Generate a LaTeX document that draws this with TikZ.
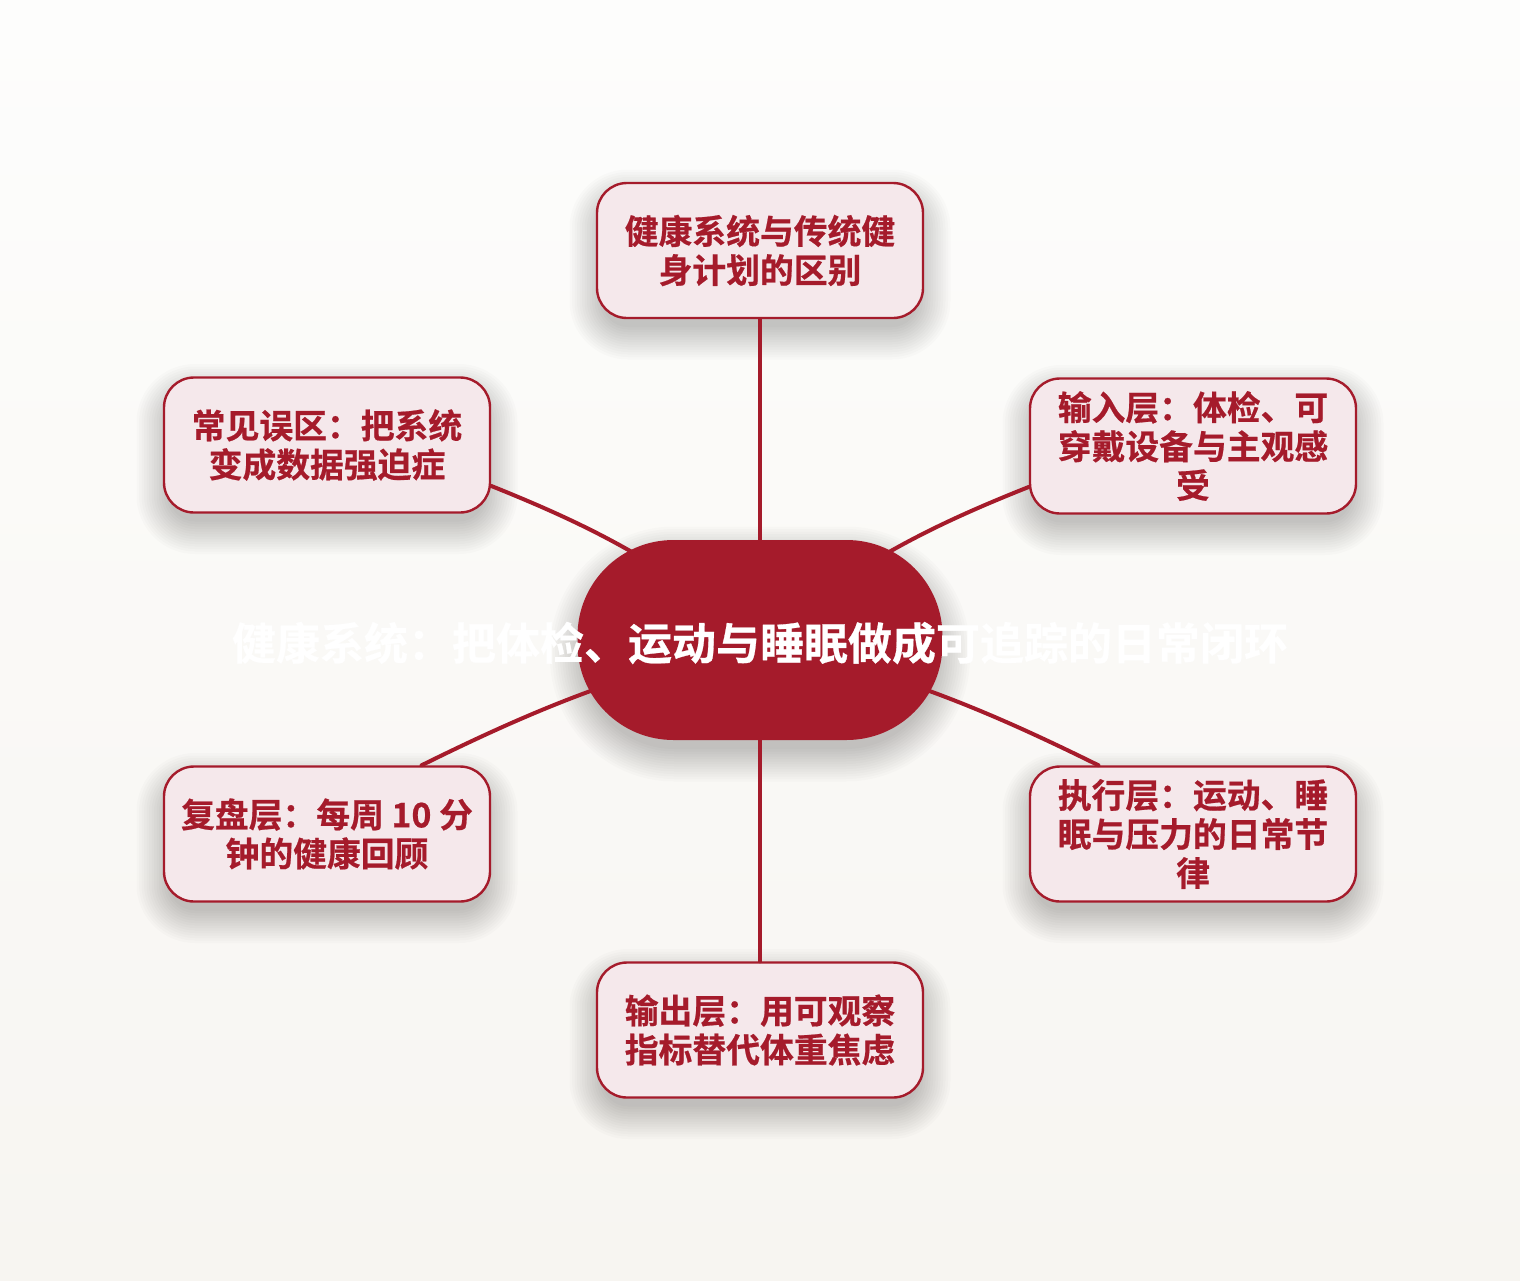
\documentclass[tikz,border=0pt]{standalone}
\usepackage{fontspec}
\newfontfamily\cjk{Noto Sans CJK SC}[BoldFont={Noto Sans CJK SC Bold},BoldFeatures={FakeBold=0.6}]
\definecolor{dred}{HTML}{A51B2B}
\definecolor{pfill}{HTML}{F5E8EB}
\definecolor{bgtop}{HTML}{FDFDFC}
\definecolor{bgbot}{HTML}{F7F5F1}
\newcommand\myshadow[4]{%
  \foreach \i in {0,...,13}{%
    \node[fill=black, fill opacity=0.016, draw=none, inner sep=0pt,
      rounded corners=#4+\i*2.5pt, minimum width=#2+\i*5pt, minimum height=#3+\i*5pt]
      at ([yshift=-14pt]#1) {};%
  }%
}
\tikzset{
  leaf/.style={draw=dred, line width=2.4pt, fill=pfill, rounded corners=30pt,
    minimum width=326pt, minimum height=135pt, align=center, text=dred,
    font=\cjk\bfseries\fontsize{33.8}{39}\selectfont, inner sep=0pt},
  hub/.style={fill=dred, rounded corners=96pt, minimum width=365pt, minimum height=200pt},
  link/.style={draw=dred, line width=4pt, line cap=round}
}
\begin{document}
\begin{tikzpicture}[x=1pt, y=-1pt]
\shade[top color=bgtop, bottom color=bgbot] (0,0) rectangle (1520,1280);
\useasboundingbox (0,0) rectangle (1520,1280);
% shadows
\myshadow{760,250.5}{316pt}{125pt}{26pt}
\myshadow{327,445}{316pt}{125pt}{26pt}
\myshadow{1193,446}{316pt}{125pt}{26pt}
\myshadow{327,834}{316pt}{125pt}{26pt}
\myshadow{1193,834}{316pt}{125pt}{26pt}
\myshadow{760,1030}{316pt}{125pt}{26pt}
\myshadow{760,640}{355pt}{190pt}{92pt}
% leaves
\node[leaf] (t) at (760,250.5) {健康系统与传统健\\身计划的区别};
\node[leaf] (tl) at (327,445) {常见误区：把系统\\变成数据强迫症};
\node[leaf] (tr) at (1193,446) {输入层：体检、可\\穿戴设备与主观感\\受};
\node[leaf] (bl) at (327,834) {复盘层：每周 10 分\\钟的健康回顾};
\node[leaf] (br) at (1193,834) {执行层：运动、睡\\眠与压力的日常节\\律};
\node[leaf] (b) at (760,1030) {输出层：用可观察\\指标替代体重焦虑};
\coordinate (c) at (760,640);
% connectors
\draw[link] (t.south) -- (c);
\draw[link] (b.north) -- (c);
\draw[link] (tl.-14) to[bend left=8] (c);
\draw[link] (tr.194) to[bend right=8] (c);
\draw[link] (bl.36) to[bend left=6] (c);
\draw[link] (br.144) to[bend right=6] (c);
% hub
\node[hub] (h) at (c) {};
\node[text=white, font=\cjk\bfseries\fontsize{44}{50}\selectfont, inner sep=0pt] (ht) at (760,643) {健康系统：把体检、运动与睡眠做成可追踪的日常闭环};
\end{tikzpicture}
\end{document}
